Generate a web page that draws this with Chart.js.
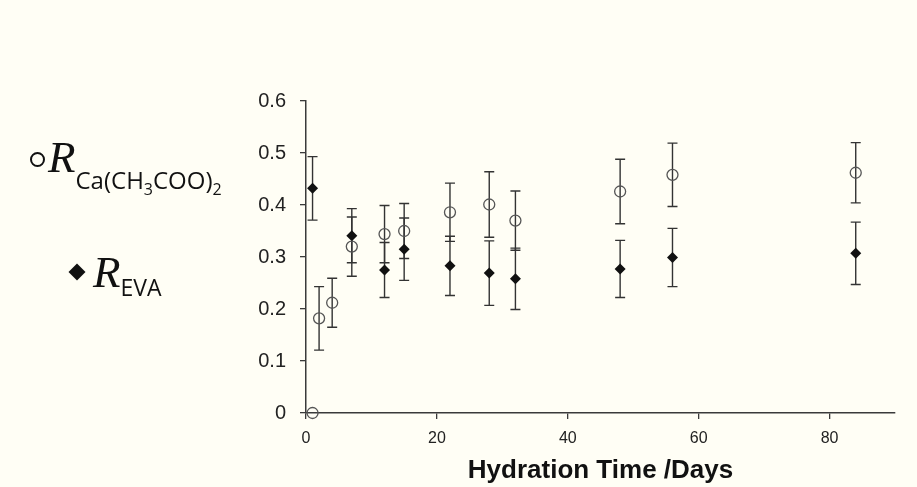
<!DOCTYPE html>
<html>
<head>
<meta charset="utf-8">
<script src="https://cdn.jsdelivr.net/npm/chart.js@4"></script>
<style>
  body { margin:0; background:#fffef5; }
  #wrap { position:relative; width:917px; height:487px; }
  canvas { position:absolute; left:0; top:0; }
  .leg { position:absolute; white-space:nowrap; color:#111; }
  .R { font-family:"Liberation Serif", serif; font-style:italic; font-size:45px; line-height:45px; }
  .sub { font-family:"Open Sans", sans-serif; font-style:normal; font-size:24px; position:relative; }
  .sub2 { font-size:16px; position:relative; top:6px; }
  #circ { position:absolute; left:30px; top:152px; width:11px; height:11px; border:2px solid #111; border-radius:50%; }
  #diam { position:absolute; left:71px; top:266px; width:12px; height:12px; background:#111; transform:rotate(45deg); }
</style>
</head>
<body>
<div id="wrap">
  <canvas id="myChart" width="917" height="487"></canvas>
  <div id="circ"></div>
  <div class="leg R" style="left:48px;top:135px;">R<span class="sub" style="top:17px;">Ca(CH<span class="sub2">3</span>COO)<span class="sub2">2</span></span></div>
  <div id="diam"></div>
  <div class="leg R" style="left:93px;top:250px;">R<span class="sub" style="top:9px;font-size:23px;">EVA</span></div>
</div>
<script>
// hydration days
const daysCa = [1, 2, 4, 7, 12, 15, 22, 28, 32, 48, 56, 84];
const valCa  = [0, 0.182, 0.212, 0.320, 0.344, 0.350, 0.386, 0.401, 0.370, 0.426, 0.458, 0.462];
const errCa  = [0, 0.061, 0.047, 0.057, 0.055, 0.053, 0.056, 0.063, 0.057, 0.062, 0.061, 0.058];

const daysEva = [1, 7, 12, 15, 22, 28, 32, 48, 56, 84];
const valEva  = [0.432, 0.341, 0.275, 0.315, 0.283, 0.269, 0.258, 0.277, 0.299, 0.307];
const errEva  = [0.061, 0.052, 0.053, 0.060, 0.057, 0.062, 0.059, 0.055, 0.056, 0.060];

const xTicks = [0, 20, 40, 60, 80];

const axisCol = '#3a3a3a';

// error bars drawn under the markers
const errBars = {
  id: 'errBars',
  beforeDatasetsDraw(chart) {
    const ctx = chart.ctx;
    const xs = chart.scales.x, ys = chart.scales.y;
    ctx.save();
    ctx.strokeStyle = '#333';
    ctx.lineWidth = 1.4;
    chart.data.datasets.forEach(ds => {
      ds.data.forEach((p, i) => {
        const e = ds.errors[i];
        if (!e) return;
        const x = xs.getPixelForValue(p.x);
        const y1 = ys.getPixelForValue(p.y + e);
        const y2 = ys.getPixelForValue(p.y - e);
        ctx.beginPath();
        ctx.moveTo(x, y1); ctx.lineTo(x, y2);
        ctx.moveTo(x - 5, y1); ctx.lineTo(x + 5, y1);
        ctx.moveTo(x - 5, y2); ctx.lineTo(x + 5, y2);
        ctx.stroke();
      });
    });
    ctx.restore();
  }
};

const ctx = document.getElementById('myChart').getContext('2d');
const myChart = new Chart(ctx, {
  type: 'scatter',
  data: {
    datasets: [
      {
        label: 'R Ca(CH3COO)2',
        data: daysCa.map((d, i) => ({x: d, y: valCa[i]})),
        errors: errCa,
        clip: false,
        pointStyle: 'circle',
        pointRadius: 5.5,
        pointHoverRadius: 5.5,
        borderColor: '#555',
        borderWidth: 1.3,
        backgroundColor: 'rgba(0,0,0,0)'
      },
      {
        label: 'R EVA',
        data: daysEva.map((d, i) => ({x: d, y: valEva[i]})),
        errors: errEva,
        clip: false,
        pointStyle: 'rectRot',
        pointRadius: 5.5,
        pointHoverRadius: 5.5,
        borderColor: '#111',
        borderWidth: 0,
        backgroundColor: '#111'
      }
    ]
  },
  options: {
    responsive: false,
    animation: false,
    layout: { padding: { left: 0, right: 22, top: 101, bottom: 0 } },
    plugins: { legend: { display: false }, tooltip: { enabled: false } },
    scales: {
      x: {
        type: 'linear',
        min: 0, max: 90,
        afterFit(scale) { scale.height = 74; },
        afterBuildTicks(scale) { scale.ticks = xTicks.map(v => ({value: v})); },
        grid: { drawOnChartArea: false, drawTicks: true, tickLength: 6, color: axisCol, lineWidth: 1.3 },
        border: { display: true, color: axisCol, width: 1.5 },
        ticks: { color: '#222', padding: 10, font: { family: 'Liberation Sans, Arial', size: 16 } },
        title: {
          display: true,
          text: 'Hydration Time /Days',
          color: '#111',
          padding: { top: 0, bottom: 1 },
          font: { family: 'Liberation Sans, Arial', size: 26, weight: 'bold' }
        }
      },
      y: {
        min: 0, max: 0.6,
        afterFit(scale) { scale.width = 306; },
        grid: { drawOnChartArea: false, drawTicks: true, tickLength: 6, color: axisCol, lineWidth: 1.3 },
        border: { display: true, color: axisCol, width: 1.5 },
        ticks: {
          stepSize: 0.1,
          color: '#222',
          padding: 14,
          font: { family: 'Liberation Sans, Arial', size: 20 },
          callback: v => String(+v.toFixed(1))
        }
      }
    }
  },
  plugins: [errBars]
});
</script>
</body>
</html>
